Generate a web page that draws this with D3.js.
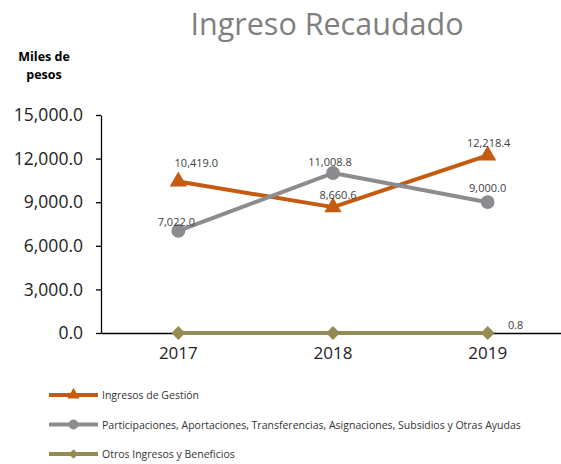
<!DOCTYPE html>
<html>
<head>
<meta charset="utf-8">
<script src="https://cdn.jsdelivr.net/npm/d3@7"></script>
<style>
  body { margin: 0; background: #fff; }
  text { font-family: "Open Sans", "Noto Sans", sans-serif; }
</style>
</head>
<body>
<svg id="chart" width="561" height="464"></svg>
<script>
// chart data
const years = ["2017", "2018", "2019"]
const seriesNames = [
  "Ingresos de Gestión",
  "Participaciones, Aportaciones, Transferencias, Asignaciones, Subsidios y Otras Ayudas",
  "Otros Ingresos y Beneficios"
]
const gestion = [10419.0, 8660.6, 12218.4]
const participaciones = [7022.0, 11008.8, 9000.0]
const otros = [0.0, 0.0, 0.8]
const yTicks = [0, 3000, 6000, 9000, 12000, 15000]

const COLORS = ["#C55A11", "#8C8C90", "#948A54"]
const SYMBOLS = [d3.symbolTriangle, d3.symbolCircle, d3.symbolSquare]
const ROTATE = [0, 0, 45]
const SIZES = [130, 150, 95]
// label offsets per series / point (dx, dy)
const LABEL_OFFSETS = [
  [[18, -15], [5, -8], [1, -8]],
  [[-2, -5], [-3, -7], [0, -10]],
  [[0, 0], [0, 0], [28, -4]]
]

const svg = d3.select('#chart')
const series = [gestion, participaciones, otros]

const xScale = d3.scaleBand().domain(years).range([101, 565]).padding(0)
const yScale = d3.scaleLinear().domain([0, 15000]).range([333, 115])
const fmt = d3.format(",.1f")
const cx = y => xScale(y) + xScale.bandwidth() / 2

// title
svg.append('text')
  .attr('x', 327).attr('y', 35)
  .attr('text-anchor', 'middle')
  .attr('font-size', 30.5)
  .attr('fill', '#7F7F7F')
  .text('Ingreso Recaudado')

// y axis label
const yl = svg.append('text')
  .attr('text-anchor', 'middle')
  .attr('font-size', 12.5)
  .attr('font-weight', 'bold')
  .attr('fill', '#000')
yl.append('tspan').attr('x', 44).attr('y', 61).text('Miles de')
yl.append('tspan').attr('x', 44).attr('y', 79).text('pesos')

// y axis
const yAxis = svg.append('g')
  .attr('transform', 'translate(101,0)')
  .call(d3.axisLeft(yScale).tickValues(yTicks).tickFormat(fmt).tickSize(5).tickSizeOuter(0))
yAxis.select('.domain').attr('stroke', '#000').attr('stroke-width', 1.3)
yAxis.selectAll('.tick line').attr('stroke', '#000').attr('stroke-width', 1.3)
yAxis.selectAll('.tick text')
  .attr('font-size', 17.5).attr('fill', '#222').attr('x', -18)

// x axis
const xAxis = svg.append('g')
  .attr('transform', 'translate(0,333)')
  .call(d3.axisBottom(xScale).tickSize(0).tickSizeOuter(0))
xAxis.select('.domain').attr('stroke', '#000').attr('stroke-width', 1.3)
xAxis.selectAll('.tick text')
  .attr('font-size', 17).attr('fill', '#222').attr('dy', '1.35em')

// lines, markers and labels
series.forEach((vals, i) => {
  const pts = years.map((y, j) => ({ year: y, v: vals[j], j }))
  const line = d3.line().x(d => cx(d.year)).y(d => yScale(d.v))
  svg.append('path')
    .datum(pts)
    .attr('fill', 'none')
    .attr('stroke', COLORS[i])
    .attr('stroke-width', 4)
    .attr('stroke-linejoin', 'round')
    .attr('d', line)

  svg.selectAll('.m' + i)
    .data(pts)
    .join('path')
    .attr('class', 'm' + i)
    .attr('transform', d => `translate(${cx(d.year)},${yScale(d.v)}) rotate(${ROTATE[i]})`)
    .attr('d', d3.symbol().type(SYMBOLS[i]).size(SIZES[i]))
    .attr('fill', COLORS[i])

  pts.forEach(d => {
    if (i === 2 && d.j < 2) return
    const off = LABEL_OFFSETS[i][d.j]
    svg.append('text')
      .attr('x', cx(d.year) + off[0])
      .attr('y', yScale(d.v) + off[1])
      .attr('text-anchor', 'middle')
      .attr('font-size', 11)
      .attr('fill', '#404040')
      .text(fmt(d.v))
  })
})

// legend
const legend = svg.append('g')
seriesNames.forEach((name, i) => {
  const ly = 395 + i * 29.5
  legend.append('line')
    .attr('x1', 49).attr('x2', 98).attr('y1', ly).attr('y2', ly)
    .attr('stroke', COLORS[i]).attr('stroke-width', 4)
  legend.append('path')
    .attr('transform', `translate(73.5,${ly}) rotate(${ROTATE[i]})`)
    .attr('d', d3.symbol().type(SYMBOLS[i]).size(SIZES[i] * 0.5))
    .attr('fill', COLORS[i])
  legend.append('text')
    .attr('x', 102).attr('y', ly + 4)
    .attr('font-size', 10.5)
    .attr('fill', '#333')
    .text(name)
})
</script>
</body>
</html>
